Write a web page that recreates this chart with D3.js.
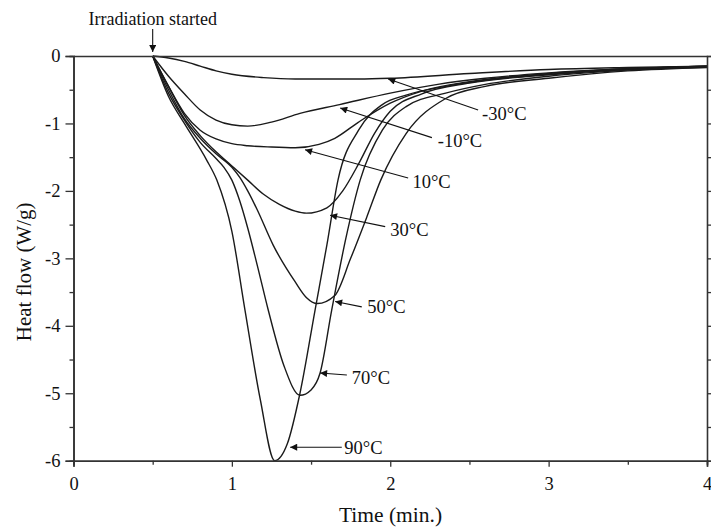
<!DOCTYPE html>
<html>
<head>
<meta charset="utf-8">
<script src="https://cdn.jsdelivr.net/npm/d3@7"></script>
<style>
  body { margin: 0; background: #fff; }
  .svg-frame { width: 711px; height: 529px; }
  text { font-family: "Liberation Serif", "DejaVu Serif", serif; fill: #111; }
</style>
</head>
<body>
<div class="svg-frame"></div>
<script>
// time (min.) and heat flow (W/g)
const series = ["-30°C", "-10°C", "10°C", "30°C", "50°C", "70°C", "90°C"]

const tM30 = [0.5, 0.6, 0.7, 0.8, 0.9, 1.0, 1.2, 1.4, 1.6, 1.8, 2.0, 2.5, 3.0, 3.5, 4.0]
const vM30 = [0, -0.03, -0.08, -0.15, -0.22, -0.27, -0.32, -0.34, -0.34, -0.34, -0.33, -0.26, -0.2, -0.17, -0.15]

const tM10 = [0.5, 0.6, 0.7, 0.8, 0.9, 1.0, 1.1, 1.25, 1.43, 1.68, 2.0, 2.3, 2.6, 3.0, 3.5, 4.0]
const vM10 = [0, -0.3, -0.56, -0.8, -0.95, -1.02, -1.04, -0.98, -0.85, -0.72, -0.55, -0.42, -0.33, -0.25, -0.19, -0.16]

const tP10 = [0.5, 0.6, 0.7, 0.8, 0.9, 1.0, 1.1, 1.25, 1.4, 1.55, 1.65, 1.8, 2.0, 2.2, 2.5, 3.0, 3.5, 4.0]
const vP10 = [0, -0.45, -0.85, -1.1, -1.23, -1.3, -1.33, -1.35, -1.36, -1.31, -1.22, -0.98, -0.7, -0.52, -0.38, -0.26, -0.19, -0.15]

const tP30 = [0.5, 0.6, 0.7, 0.8, 0.9, 1.0, 1.1, 1.2, 1.3, 1.4, 1.47, 1.6, 1.7, 1.8, 1.9, 2.0, 2.2, 2.5, 3.0, 3.5, 4.0]
const vP30 = [0, -0.45, -0.88, -1.18, -1.42, -1.63, -1.84, -2.05, -2.2, -2.3, -2.33, -2.25, -2.0, -1.6, -1.15, -0.82, -0.56, -0.4, -0.28, -0.2, -0.15]

const tP50 = [0.5, 0.6, 0.7, 0.8, 0.9, 1.0, 1.05, 1.1, 1.16, 1.26, 1.4, 1.47, 1.54, 1.65, 1.75, 1.85, 1.94, 2.1, 2.35, 2.6, 3.0, 3.5, 4.0]
const vP50 = [0, -0.5, -0.93, -1.22, -1.45, -1.65, -1.8, -2.0, -2.28, -2.8, -3.35, -3.58, -3.67, -3.55, -3.0, -2.4, -1.84, -1.15, -0.63, -0.45, -0.33, -0.22, -0.17]

const tP70 = [0.5, 0.6, 0.7, 0.8, 0.9, 0.95, 1.0, 1.05, 1.1, 1.16, 1.23, 1.33, 1.43, 1.5, 1.557, 1.63, 1.72, 1.81, 1.95, 2.1, 2.35, 2.6, 3.0, 3.5, 4.0]
const vP70 = [0, -0.55, -0.95, -1.28, -1.52, -1.65, -1.84, -2.15, -2.55, -3.1, -3.77, -4.6, -5.03, -4.95, -4.7, -3.77, -2.7, -1.84, -1.1, -0.75, -0.55, -0.42, -0.3, -0.21, -0.16]

const tP90 = [0.5, 0.6, 0.7, 0.84, 0.905, 1.0, 1.083, 1.18, 1.27, 1.35, 1.43, 1.525, 1.6, 1.67, 1.8, 1.95, 2.1, 2.35, 2.6, 3.0, 3.5, 4.0]
const vP90 = [0, -0.6, -1.0, -1.54, -1.84, -2.6, -3.77, -5.1, -6.0, -5.75, -5.0, -3.77, -2.8, -1.84, -1.1, -0.72, -0.58, -0.45, -0.36, -0.27, -0.19, -0.15]

const times = [tM30, tM10, tP10, tP30, tP50, tP70, tP90]
const flows = [vM30, vM10, vP10, vP30, vP50, vP70, vP90]

// arrow tip (t, v), arrow tail (t, v) and label position for each curve
const labelTip = [[1.987, -0.34], [1.684, -0.77], [1.462, -1.39], [1.62, -2.36], [1.652, -3.64], [1.557, -4.70], [1.368, -5.80]]
const labelTail = [[2.555, -0.80], [2.263, -1.21], [2.113, -1.81], [1.968, -2.53], [1.82, -3.72], [1.726, -4.73], [1.694, -5.80]]
const labelAt = [[2.58, -0.85], [2.30, -1.26], [2.14, -1.86], [2.0, -2.58], [1.855, -3.71], [1.757, -4.76], [1.71, -5.80]]

const xTicks = [0, 1, 2, 3, 4]
const yTicks = [0, -1, -2, -3, -4, -5, -6]
const startTime = 0.5

function drawViz() {
  const frameClass = ".svg-frame"
  const svg = d3.select(frameClass)
    .append("svg")
    .attr("width", 711)
    .attr("height", 529)

  const xScale = d3.scaleLinear([0, 4], [73.5, 707])
  const yScale = d3.scaleLinear([-6, 0], [460.7, 56])

  svg.append("defs").append("marker")
    .attr("id", "head")
    .attr("viewBox", "0 0 10 10")
    .attr("refX", 10).attr("refY", 5)
    .attr("markerWidth", 10).attr("markerHeight", 7)
    .attr("markerUnits", "userSpaceOnUse")
    .attr("orient", "auto")
    .append("path")
    .attr("d", "M0,0 L10,5 L0,10 Z")
    .attr("fill", "#111")

  //curves
  const line = d3.line()
    .x(d => xScale(d[0]))
    .y(d => yScale(d[1]))
    .curve(d3.curveMonotoneX)

  svg.selectAll("path.curve")
    .data(series.map((s, i) => times[i].map((t, j) => [t, flows[i][j]])))
    .join("path")
      .attr("class", "curve")
      .attr("d", line)
      .attr("fill", "none")
      .attr("stroke", "#1a1a1a")
      .attr("stroke-width", 1.4)

  //axes: left and bottom carry labels, top and right are plain
  const minorX = d3.range(0, 4.01, 0.5).filter(v => v % 1 !== 0)
  const minorY = d3.range(-6, 0.01, 0.5).filter(v => v % 1 !== 0)
  const plain = d => String(d)

  const axisStyle = g => {
    g.select(".domain").attr("stroke", "#333").attr("stroke-width", 1.6)
    g.selectAll(".tick line").attr("stroke", "#333").attr("stroke-width", 1.3)
    g.selectAll(".tick text").style("font-family", "Liberation Serif, serif").style("font-size", "18.5px").attr("fill", "#111")
  }

  svg.append("g")
    .attr("transform", `translate(0,${yScale(-6)})`)
    .call(d3.axisBottom(xScale).tickValues(xTicks).tickFormat(plain).tickSizeOuter(0).tickSize(6).tickPadding(10))
    .call(axisStyle)
  svg.append("g")
    .attr("transform", `translate(0,${yScale(-6)})`)
    .call(d3.axisBottom(xScale).tickValues(minorX).tickFormat("").tickSizeOuter(0).tickSize(4))
    .call(axisStyle)

  svg.append("g")
    .attr("transform", `translate(${xScale(0)},0)`)
    .call(d3.axisLeft(yScale).tickValues(yTicks).tickFormat(plain).tickSizeOuter(0).tickSize(8).tickPadding(5))
    .call(axisStyle)
  svg.append("g")
    .attr("transform", `translate(${xScale(0)},0)`)
    .call(d3.axisLeft(yScale).tickValues(minorY).tickFormat("").tickSizeOuter(0).tickSize(4))
    .call(axisStyle)

  svg.append("g")
    .attr("transform", `translate(0,${yScale(0)})`)
    .call(d3.axisTop(xScale).tickValues([]).tickSizeOuter(0))
    .call(axisStyle)
  svg.append("g")
    .attr("transform", `translate(${xScale(4)},0)`)
    .call(d3.axisRight(yScale).tickValues(d3.range(-6, 0.01, 0.5)).tickFormat("").tickSizeOuter(0).tickSize(5))
    .call(axisStyle)

  //axis titles
  svg.append("text")
    .attr("x", 390.5)
    .attr("y", 522)
    .attr("text-anchor", "middle")
    .style("font-size", "21.5px")
    .text("Time (min.)")
  svg.append("text")
    .attr("transform", `translate(31,${yScale(-3.2)}) rotate(-90)`)
    .attr("text-anchor", "middle")
    .style("font-size", "21px")
    .text("Heat flow (W/g)")

  //curve labels with arrows
  svg.selectAll("line.pointer")
    .data(series)
    .join("line")
      .attr("class", "pointer")
      .attr("x1", (d, i) => xScale(labelTail[i][0]))
      .attr("y1", (d, i) => yScale(labelTail[i][1]))
      .attr("x2", (d, i) => xScale(labelTip[i][0]))
      .attr("y2", (d, i) => yScale(labelTip[i][1]))
      .attr("stroke", "#111")
      .attr("stroke-width", 1.1)
      .attr("marker-end", "url(#head)")

  svg.selectAll("text.curve-label")
    .data(series)
    .join("text")
      .attr("class", "curve-label")
      .attr("x", (d, i) => xScale(labelAt[i][0]))
      .attr("y", (d, i) => yScale(labelAt[i][1]))
      .attr("dy", "0.35em")
      .style("font-size", "18.5px")
      .text(d => d)

  //irradiation marker
  svg.append("line")
    .attr("x1", xScale(startTime)).attr("y1", 29)
    .attr("x2", xScale(startTime)).attr("y2", 52)
    .attr("stroke", "#111")
    .attr("stroke-width", 1.1)
    .attr("marker-end", "url(#head)")
  svg.append("text")
    .attr("x", xScale(startTime))
    .attr("y", 25)
    .attr("text-anchor", "middle")
    .style("font-size", "18px")
    .text("Irradiation started")
}

drawViz()
</script>
</body>
</html>
